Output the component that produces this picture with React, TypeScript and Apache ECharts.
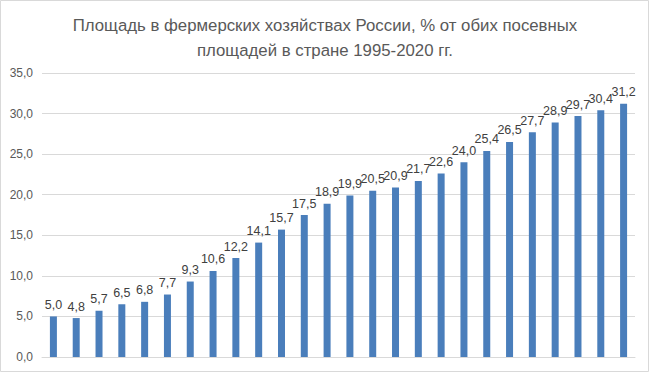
import React, { useEffect, useRef } from "react";
import * as echarts from "echarts";

const years = [
  "1995", "1996", "1997", "1998", "1999", "2000", "2001", "2002", "2003", "2004",
  "2005", "2006", "2007", "2008", "2009", "2010", "2011", "2012", "2013", "2014",
  "2015", "2016", "2017", "2018", "2019", "2020",
];
const shares = [
  5.0, 4.8, 5.7, 6.5, 6.8, 7.7, 9.3, 10.6, 12.2, 14.1,
  15.7, 17.5, 18.9, 19.9, 20.5, 20.9, 21.7, 22.6, 24.0, 25.4,
  26.5, 27.7, 28.9, 29.7, 30.4, 31.2,
];
const titleLines = [
  "Площадь в фермерских хозяйствах России, % от обих посевных",
  "площадей в стране 1995-2020 гг.",
];

const fmt = (v: number) => v.toFixed(1).replace(".", ",");

export default function App() {
  const ref = useRef<HTMLDivElement>(null);
  useEffect(() => {
    if (!ref.current) return;
    document.body.style.margin = "0";
    const chart = echarts.init(ref.current, null, { renderer: "svg" });
    const font = "'Liberation Sans', Arial, sans-serif";
    chart.setOption({
      animation: false,
      backgroundColor: "#ffffff",
      textStyle: { fontFamily: font },
      title: {
        text: titleLines.join("\n"),
        left: "center",
        top: 8,
        textStyle: {
          fontFamily: font,
          fontSize: 16.8,
          fontWeight: "normal",
          color: "#595959",
          lineHeight: 25,
        },
      },
      graphic: [
        {
          type: "rect",
          shape: { x: 0.5, y: 0.5, width: 648, height: 371 },
          style: { fill: "none", stroke: "#d9d9d9", lineWidth: 1 },
          silent: true,
        },
      ],
      grid: { left: 42, right: 15, top: 73, bottom: 16 },
      xAxis: {
        type: "category",
        data: years,
        axisLabel: { show: false },
        axisTick: { show: false },
        axisLine: { show: true, lineStyle: { color: "#d9d9d9" } },
      },
      yAxis: {
        type: "value",
        min: 0,
        max: 35,
        interval: 5,
        axisLabel: {
          formatter: (v: number) => fmt(v),
          color: "#595959",
          fontSize: 12,
          fontFamily: font,
          margin: 9,
        },
        axisLine: { show: false },
        axisTick: { show: false },
        splitLine: { lineStyle: { color: "#d9d9d9", width: 1 } },
      },
      series: [
        {
          type: "bar",
          data: shares,
          barWidth: 7,
          itemStyle: { color: "#4a7ebb" },
          label: {
            show: true,
            position: "top",
            distance: 5,
            formatter: (p: any) => fmt(p.value),
            color: "#404040",
            fontSize: 12.5,
            fontFamily: font,
          },
        },
      ],
    });
    return () => chart.dispose();
  }, []);
  return (
    <div
      ref={ref}
      style={{ width: 650, height: 373, position: "absolute", left: 0, top: 0 }}
    />
  );
}
